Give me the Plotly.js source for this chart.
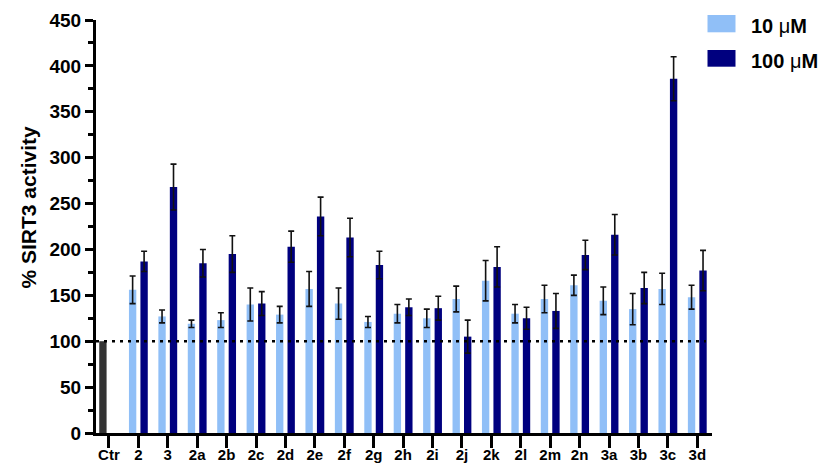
<!DOCTYPE html>
<html>
<head>
<meta charset="utf-8">
<script src="https://cdn.plot.ly/plotly-3.0.1.min.js"></script>
<style>
html,body{margin:0;padding:0;background:#fff;}
#chart{width:827px;height:465px;}
</style>
</head>
<body>
<div id="chart"></div>
<script>
// ---- data ----
var categories = ['Ctr','2','3','2a','2b','2c','2d','2e','2f','2g','2h','2i','2j','2k','2l','2m','2n','3a','3b','3c','3d'];
var compounds  = ['2','3','2a','2b','2c','2d','2e','2f','2g','2h','2i','2j','2k','2l','2m','2n','3a','3b','3c','3d'];
var ctrValue = [100];
var low10    = [156,127,119,123,140,129,157,141,121,130,125,146,166,130,146,161,144,135,157,148];
var low10Err = [15,7,4,8,18,9,19,17,6,10,10,14,22,10,15,11,15,17,17,13];
var high100    = [187,268,185,195,141,203,236,213,183,137,136,105,181,125,133,194,216,158,386,177];
var high100Err = [11,25,15,20,13,17,21,21,15,9,13,18,22,12,19,16,22,17,24,22];
var yTicks = [0,50,100,150,200,250,300,350,400,450];
var seriesNames = ['10 μM','100 μM'];
var yTitle = '% SIRT3 activity';

// ---- style ----
var W = 827, H = 465;
var M = {l:96, r:115, t:20, b:32};
var FONT = '"Liberation Sans", Arial, sans-serif';
var LIGHT = '#90BFF7', DARK = '#00007F', CTR = '#333333';
var errStyle = {type:'data', visible:true, thickness:1.6, width:3, color:'#111'};

function px2paperX(px){ return (px - M.l) / (W - M.l - M.r); }
function px2paperY(py){ return (H - M.b - py) / (H - M.t - M.b); }

var traces = [
  {type:'bar', x:['Ctr'], y:ctrValue, name:'Ctr', showlegend:false,
   marker:{color:CTR}, width:0.25, offset:-0.33, hoverinfo:'x+y'},
  {type:'bar', x:compounds, y:low10, name:seriesNames[0],
   marker:{color:LIGHT}, width:0.25, offset:-0.32,
   error_y:Object.assign({array:low10Err}, errStyle)},
  {type:'bar', x:compounds, y:high100, name:seriesNames[1],
   marker:{color:DARK}, width:0.25, offset:0.07,
   error_y:Object.assign({array:high100Err}, errStyle)}
];

var shapes = [
  {type:'line', xref:'paper', yref:'y', x0:0, x1:px2paperX(706), y0:100, y1:100,
   line:{color:'#000', width:2.5, dash:'3px,5px'}},
  {type:'rect', xref:'paper', yref:'paper', x0:px2paperX(707.5), x1:px2paperX(735.5),
   y0:px2paperY(32.3), y1:px2paperY(15), fillcolor:LIGHT, line:{width:0}},
  {type:'rect', xref:'paper', yref:'paper', x0:px2paperX(707.5), x1:px2paperX(735.5),
   y0:px2paperY(66.7), y1:px2paperY(50), fillcolor:DARK, line:{width:0}}
];

var annotations = [
  {xref:'paper', yref:'paper', x:px2paperX(749), y:px2paperY(26), xanchor:'left', yanchor:'middle',
   text:'<b>10 </b>μ<b>M</b>', showarrow:false, font:{family:FONT, size:20, color:'#000'}},
  {xref:'paper', yref:'paper', x:px2paperX(749), y:px2paperY(61), xanchor:'left', yanchor:'middle',
   text:'<b>100 </b>μ<b>M</b>', showarrow:false, font:{family:FONT, size:20, color:'#000'}},
  {xref:'paper', yref:'paper', x:px2paperX(28.5), y:px2paperY(207), xanchor:'center', yanchor:'middle',
   textangle:-90, text:yTitle, showarrow:false,
   font:{family:FONT, size:21, weight:'bold', color:'#000'}}
];

var layout = {
  width:W, height:H, margin:M,
  paper_bgcolor:'#fff', plot_bgcolor:'#fff',
  barmode:'overlay', showlegend:false,
  font:{family:FONT, color:'#000'},
  xaxis:{
    type:'category', categoryorder:'array', categoryarray:categories,
    range:[-0.44, 20.5], showgrid:false, zeroline:false,
    showline:true, linewidth:3, linecolor:'#000',
    ticks:'outside', ticklen:12, tickwidth:3, tickcolor:'#000',
    ticklabelstandoff:-6,
    tickfont:{family:FONT, size:15, weight:'bold', color:'#000'},
    fixedrange:true
  },
  yaxis:{
    range:[0,450], tickvals:yTicks, showgrid:false, zeroline:false,
    showline:true, linewidth:3, linecolor:'#000',
    ticks:'outside', ticklen:8, tickwidth:3, tickcolor:'#000',
    minor:{dtick:25, ticks:'outside', ticklen:5, tickwidth:3, tickcolor:'#000', showgrid:false},
    tickfont:{family:FONT, size:19, weight:'bold', color:'#000'},
    fixedrange:true
  },
  shapes:shapes,
  annotations:annotations
};

Plotly.newPlot('chart', traces, layout, {displayModeBar:false, staticPlot:true});
</script>
</body>
</html>
